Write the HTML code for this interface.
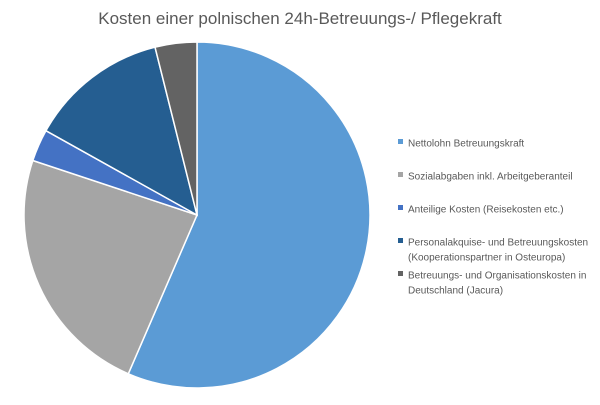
<!DOCTYPE html>
<html><head><meta charset="utf-8"><style>
body{margin:0;background:#fff;font-family:"Liberation Sans",sans-serif}
svg text{font-family:"Liberation Sans",sans-serif}
</style></head><body>
<svg width="600" height="400" viewBox="0 0 600 400">
<text x="300" y="24" text-anchor="middle" font-size="17" fill="#595959">Kosten einer polnischen 24h-Betreuungs-/ Pflegekraft</text>
<g id="slices"></g>
<g id="legend"></g>
</svg>
<script>
const categories=[["Nettolohn Betreuungskraft"],["Sozialabgaben inkl. Arbeitgeberanteil"],["Anteilige Kosten (Reisekosten etc.)"],["Personalakquise- und Betreuungskosten","(Kooperationspartner in Osteuropa)"],["Betreuungs- und Organisationskosten in","Deutschland (Jacura)"]];
const values=[56.5,23.6,3.0,13.0,3.9];
const colors=["#5b9bd5","#a5a5a5","#4472c4","#255e91","#636363"];
const NS="http://www.w3.org/2000/svg";
const cx=197,cy=215,r=173;
const total=values.reduce((a,b)=>a+b,0);
const gs=document.getElementById('slices');
let a0=0;
values.forEach((v,i)=>{
  const a1=a0+v/total*Math.PI*2;
  const x0=cx+r*Math.sin(a0),y0=cy-r*Math.cos(a0),x1=cx+r*Math.sin(a1),y1=cy-r*Math.cos(a1);
  const p=document.createElementNS(NS,'path');
  p.setAttribute('d',`M${cx},${cy}L${x0},${y0}A${r},${r} 0 ${a1-a0>Math.PI?1:0} 1 ${x1},${y1}Z`);
  p.setAttribute('fill',colors[i]);p.setAttribute('stroke','#fff');p.setAttribute('stroke-width','1.5');
  
  
  gs.appendChild(p);
  a0=a1;
});
const gl=document.getElementById('legend');
const ys=[143,176,209,242,275];
categories.forEach((lines,i)=>{
  const g=document.createElementNS(NS,'g');
  
  
  const m=document.createElementNS(NS,'rect');
  m.setAttribute('x',398);m.setAttribute('y',ys[i]-4);m.setAttribute('width',5);m.setAttribute('height',5);m.setAttribute('fill',colors[i]);
  g.appendChild(m);
  lines.forEach((t,j)=>{
    const tx=document.createElementNS(NS,'text');
    tx.setAttribute('x',408);tx.setAttribute('y',ys[i]+3.5+j*15);tx.setAttribute('font-size','10');tx.setAttribute('fill','#595959');
    tx.textContent=t;g.appendChild(tx);
  });
  gl.appendChild(g);
});
</script>
</body></html>
